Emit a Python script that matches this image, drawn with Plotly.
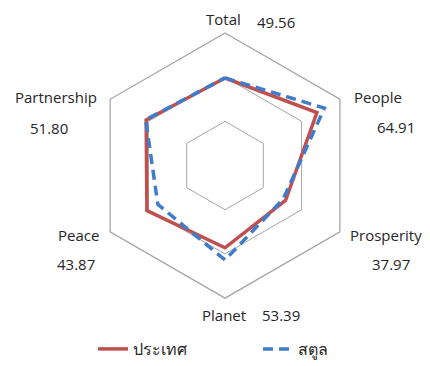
import plotly.graph_objects as go

# ── data ──────────────────────────────────────────────────────
categories = ['Total', 'People', 'Prosperity', 'Planet', 'Peace', 'Partnership']
country    = [49.5, 60.0, 39.5, 46.5, 51.0, 51.5]        # ประเทศ
satun      = [49.56, 64.91, 37.97, 53.39, 43.87, 51.80]  # สตูล
tick_vals  = [0, 25, 50, 75]

RED  = '#c0504d'
BLUE = '#3f7ccc'
GRID = '#a6a6a6'
FONT = '"Open Sans", Lato, sans-serif'

# page body has an 8px margin, so the figure is 8px smaller than the window
W, H = 422, 358

def closed(v):
    return v + v[:1]

fig = go.Figure()
fig.add_trace(go.Scatterpolar(
    r=closed(country), theta=closed(categories), mode='lines', name='ประเทศ',
    line=dict(color=RED, width=3.5),
))
fig.add_trace(go.Scatterpolar(
    r=closed(satun), theta=closed(categories), mode='lines', name='สตูล',
    line=dict(color=BLUE, width=3.5, dash='10px,6px'),
))

fig.update_layout(
    width=W, height=H,
    paper_bgcolor='white', plot_bgcolor='white',
    margin=dict(l=0, r=0, t=0, b=0),
    font=dict(family=FONT, size=15, color='#262626'),
    polar=dict(
        domain=dict(x=[0.1991, 0.8294], y=[0.1872, 0.9302]),
        gridshape='linear',
        bgcolor='white',
        radialaxis=dict(range=[tick_vals[0], tick_vals[-1]], tickvals=tick_vals,
                        showticklabels=False, ticks='', showline=False,
                        gridcolor=GRID, gridwidth=1.3),
        angularaxis=dict(rotation=90, direction='clockwise',
                         showticklabels=False, ticks='', showgrid=False,
                         linecolor=GRID, linewidth=1.3),
    ),
    showlegend=True,
    legend=dict(orientation='h', x=0.2014, xanchor='left', y=0.045, yanchor='middle',
                font=dict(size=16, color='#262626'), entrywidth=120,
                bgcolor='rgba(0,0,0,0)'),
)

# category labels with สตูล values; (name x, name y, value x, value y) in px
label_pos = [
    (216, 11, 268, 14),
    (370, 89, 388, 119),
    (378, 228, 383, 257),
    (216, 308, 273, 308),
    (70, 228, 68, 257),
    (48, 89, 41, 120),
]
for cat, val, (nx, ny, vx, vy) in zip(categories, satun, label_pos):
    fig.add_annotation(text=cat, x=nx / W, y=1 - ny / H, xref='paper', yref='paper',
                       showarrow=False, xanchor='center', yanchor='middle')
    fig.add_annotation(text=f'{val:.2f}', x=vx / W, y=1 - vy / H, xref='paper', yref='paper',
                       showarrow=False, xanchor='center', yanchor='middle')

fig.write_html('out.html')
